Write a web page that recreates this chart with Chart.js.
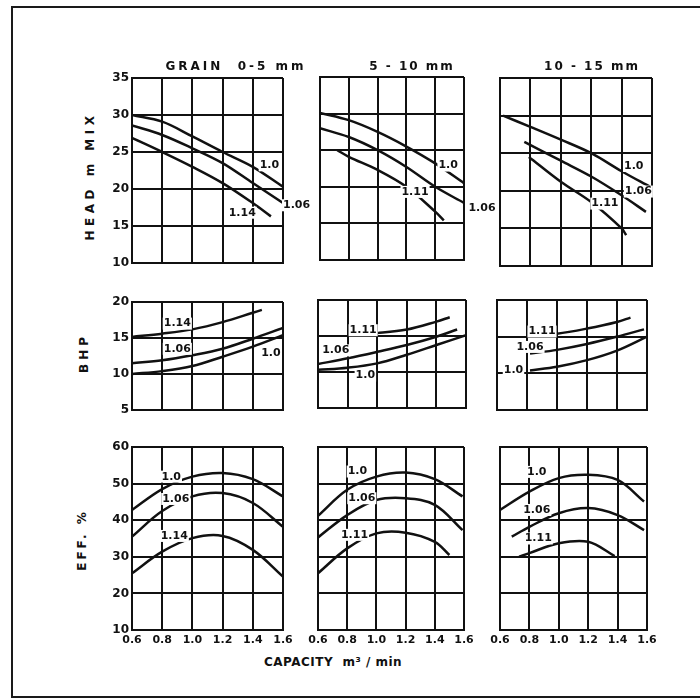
<!DOCTYPE html>
<html>
<head>
<meta charset="utf-8">
<script src="https://cdn.jsdelivr.net/npm/chart.js@4.4.1/dist/chart.umd.min.js"></script>
<style>
html, body { margin: 0; padding: 0; background: #fff; }
#fig { position: relative; width: 700px; height: 699px; overflow: hidden; background: #fff; font-family: 'DejaVu Sans', sans-serif; }
#frame { position: absolute; left: 11px; top: 6px; width: 720px; height: 688px; border: 2px solid #1a1a1a; }
canvas { position: absolute; }
.txt { position: absolute; font-weight: bold; color: #111; white-space: pre; line-height: 1; }
</style>
</head>
<body>
<div id="fig">
  <div id="frame"></div>
</div>
<script>
const capTicks = [0.6, 0.8, 1.0, 1.2, 1.4, 1.6];
const headTicks = [10, 15, 20, 25, 30, 35];
const bhpTicks = [5, 10, 15, 20];
const effTicks = [10, 20, 30, 40, 50, 60];

const grainSizes = ['GRAIN  0-5 mm', '5 - 10 mm', '10 - 15 mm'];
const rowTitles = ['HEAD m MIX', 'BHP', 'EFF. %'];
const xTitle = 'CAPACITY  m\u00b3 / min';
const ratiosFine = ['1.0', '1.06', '1.14'];
const ratiosCoarse = ['1.0', '1.06', '1.11'];

// head, grain 0-5 mm
const head05_r100 = [[0.6, 30.0], [0.8, 29.1], [1.0, 27.1], [1.2, 25.0], [1.4, 23.0], [1.6, 20.3]];
const head05_r106 = [[0.6, 28.6], [0.8, 27.3], [1.0, 25.5], [1.2, 23.5], [1.4, 20.8], [1.6, 18.1]];
const head05_r114 = [[0.6, 26.9], [0.8, 25.0], [1.0, 23.0], [1.2, 20.8], [1.4, 18.1], [1.52, 16.3]];
// head, 5-10 mm
const head510_r100 = [[0.6, 30.1], [0.8, 29.1], [1.0, 27.5], [1.2, 25.5], [1.4, 23.2], [1.6, 20.5]];
const head510_r106 = [[0.6, 28.0], [0.8, 26.8], [1.0, 25.0], [1.2, 22.7], [1.4, 20.0], [1.6, 17.8]];
const head510_r111 = [[0.72, 25.0], [0.8, 24.1], [1.0, 22.3], [1.2, 20.0], [1.4, 16.6], [1.46, 15.4]];
// head, 10-15 mm
const head1015_r100 = [[0.62, 30.0], [0.8, 28.5], [1.0, 26.8], [1.2, 25.0], [1.4, 22.6], [1.59, 20.5]];
const head1015_r106 = [[0.76, 26.5], [1.0, 24.0], [1.2, 21.9], [1.4, 19.4], [1.56, 17.2]];
const head1015_r111 = [[0.79, 24.5], [1.0, 21.2], [1.2, 18.5], [1.4, 15.0], [1.43, 14.1]];

// bhp
const bhp05_r100 = [[0.6, 10.0], [0.8, 10.4], [1.0, 11.1], [1.2, 12.4], [1.4, 13.8], [1.6, 15.4]];
const bhp05_r106 = [[0.6, 11.5], [0.8, 11.9], [1.0, 12.6], [1.2, 13.5], [1.4, 14.9], [1.6, 16.4]];
const bhp05_r114 = [[0.6, 15.15], [0.8, 15.6], [1.0, 16.2], [1.2, 17.2], [1.4, 18.5], [1.46, 18.9]];
const bhp510_r100 = [[0.6, 10.3], [0.8, 10.6], [1.0, 11.2], [1.2, 12.4], [1.4, 13.75], [1.6, 15.1]];
const bhp510_r106 = [[0.6, 11.1], [0.8, 11.9], [1.0, 12.8], [1.2, 13.75], [1.4, 14.9], [1.54, 15.9]];
const bhp510_r111 = [[0.8, 15.1], [1.0, 15.4], [1.2, 15.9], [1.4, 17.0], [1.49, 17.6]];
const bhp1015_r100 = [[0.82, 10.4], [1.0, 10.9], [1.2, 11.8], [1.4, 13.1], [1.6, 15.0]];
const bhp1015_r106 = [[0.82, 12.7], [1.0, 13.2], [1.2, 14.0], [1.4, 15.0], [1.58, 16.0]];
const bhp1015_r111 = [[0.84, 15.2], [1.0, 15.4], [1.2, 16.1], [1.4, 17.0], [1.49, 17.6]];

// efficiency
const eff05_r100 = [[0.6, 42.8], [0.8, 48.5], [1.0, 51.9], [1.2, 52.9], [1.4, 51.2], [1.6, 46.5]];
const eff05_r106 = [[0.6, 35.5], [0.8, 42.5], [1.0, 46.5], [1.2, 47.4], [1.4, 44.7], [1.6, 38.2]];
const eff05_r114 = [[0.6, 25.5], [0.8, 31.4], [1.0, 35.1], [1.2, 35.7], [1.4, 31.9], [1.6, 24.6]];
const eff510_r100 = [[0.6, 41.2], [0.8, 48.3], [1.0, 51.9], [1.2, 53.0], [1.4, 51.2], [1.59, 46.5]];
const eff510_r106 = [[0.6, 35.3], [0.8, 41.4], [1.0, 45.5], [1.2, 46.0], [1.4, 44.2], [1.59, 37.3]];
const eff510_r111 = [[0.6, 25.5], [0.8, 32.3], [1.0, 36.4], [1.2, 36.6], [1.4, 34.1], [1.5, 30.5]];
const eff1015_r100 = [[0.6, 42.8], [0.8, 47.8], [1.0, 51.5], [1.2, 52.4], [1.4, 51.0], [1.58, 45.1]];
const eff1015_r106 = [[0.68, 35.5], [0.8, 38.2], [1.0, 41.9], [1.2, 43.3], [1.4, 41.4], [1.58, 37.3]];
const eff1015_r111 = [[0.73, 30.0], [0.8, 31.0], [1.0, 33.7], [1.2, 34.1], [1.38, 30.2]];

// where the ratio tags sit, in axis units (same order as the ratio lists)
const head05_tags = [[1.51, 23.2], [1.69, 17.8], [1.33, 16.8]];
const head510_tags = [[1.49, 22.9], [1.725, 17.1], [1.26, 19.3]];
const head1015_tags = [[1.48, 23.3], [1.51, 19.9], [1.29, 18.3]];
const bhp05_tags = [[1.52, 12.85], [0.9, 13.5], [0.9, 17.0]];
const bhp510_tags = [[0.92, 9.5], [0.72, 13.0], [0.905, 15.8]];
const bhp1015_tags = [[0.71, 10.5], [0.82, 13.6], [0.9, 15.7]];
const eff05_tags = [[0.86, 51.9], [0.89, 45.8], [0.88, 35.7]];
const eff510_tags = [[0.87, 53.3], [0.9, 46.0], [0.85, 36.0]];
const eff1015_tags = [[0.85, 53.2], [0.85, 42.8], [0.86, 35.0]];

const ink = '#111';
const fig = document.getElementById('fig');

const curveLabels = {
    id: 'curveLabels',
    afterDatasetsDraw(chart, args, opts) {
        const { ctx } = chart;
        const x = chart.scales.x, y = chart.scales.y;
        ctx.save();
        ctx.font = 'bold 11px "DejaVu Sans", sans-serif';
        ctx.textAlign = 'center';
        ctx.textBaseline = 'middle';
        (opts.items || []).forEach(item => {
            const px = x.getPixelForValue(item.at[0]);
            const py = y.getPixelForValue(item.at[1]);
            const w = ctx.measureText(item.text).width;
            ctx.fillStyle = '#fff';
            ctx.fillRect(px - w / 2 - 1, py - 6, w + 2, 12);
            ctx.fillStyle = ink;
            ctx.fillText(item.text, px, py);
        });
        ctx.restore();
    }
};

function addPanel(box, cfg) {
    const [left, top, w, h] = box;
    const yW = cfg.yLabels ? 30 : (cfg.xLabels ? 14 : 4);
    const xH = cfg.xLabels ? 22 : 6;
    const padT = 8;
    const padR = cfg.padR || (cfg.xLabels ? 14 : 6);

    const canvas = document.createElement('canvas');
    canvas.width = yW + w + padR;
    canvas.height = padT + h + xH;
    canvas.style.left = (left - yW) + 'px';
    canvas.style.top = (top - padT) + 'px';
    fig.appendChild(canvas);

    new Chart(canvas, {
        type: 'line',
        data: {
            datasets: cfg.curves.map((pts, i) => ({
                label: cfg.names[i],
                data: pts.map(p => ({ x: p[0], y: p[1] })),
                borderColor: ink,
                borderWidth: 2.5,
                pointRadius: 0,
                tension: 0.35,
                fill: false
            }))
        },
        options: {
            responsive: false,
            animation: false,
            devicePixelRatio: 1,
            layout: { padding: { left: 0, top: padT, right: padR, bottom: 0 } },
            plugins: {
                legend: { display: false },
                tooltip: { enabled: false },
                curveLabels: {
                    items: cfg.names.map((t, i) => ({ text: t, at: cfg.tags[i] }))
                }
            },
            scales: {
                x: {
                    type: 'linear',
                    min: capTicks[0],
                    max: capTicks[capTicks.length - 1],
                    afterBuildTicks: s => { s.ticks = capTicks.map(v => ({ value: v })); },
                    afterFit: s => { s.height = xH; s.paddingLeft = 0; s.paddingRight = 0; },
                    grid: { color: ink, lineWidth: 2, drawTicks: false },
                    border: { color: ink, width: 2 },
                    ticks: {
                        display: !!cfg.xLabels,
                        padding: 4,
                        autoSkip: false,
                        maxRotation: 0,
                        color: ink,
                        font: { family: 'DejaVu Sans', size: 11, weight: 'bold' },
                        callback: v => v.toFixed(1)
                    }
                },
                y: {
                    type: 'linear',
                    min: cfg.yTicks[0],
                    max: cfg.yTicks[cfg.yTicks.length - 1],
                    afterBuildTicks: s => { s.ticks = cfg.yTicks.map(v => ({ value: v })); },
                    afterFit: s => { s.width = yW; s.paddingTop = 0; s.paddingBottom = 0; },
                    grid: { color: ink, lineWidth: 2, drawTicks: false },
                    border: { color: ink, width: 2 },
                    ticks: {
                        display: !!cfg.yLabels,
                        padding: 3,
                        color: ink,
                        font: { family: 'DejaVu Sans', size: 12, weight: 'bold' }
                    }
                }
            }
        },
        plugins: [curveLabels]
    });
}

function addText(text, cx, cy, size, spacing, rotate) {
    const d = document.createElement('div');
    d.className = 'txt';
    d.textContent = text;
    d.style.fontSize = size + 'px';
    d.style.letterSpacing = spacing + 'px';
    d.style.left = cx + 'px';
    d.style.top = cy + 'px';
    d.style.transform = 'translate(-50%, -50%)' + (rotate ? ' rotate(-90deg)' : '');
    fig.appendChild(d);
}

// row 1: head
addPanel([132, 78, 151, 185], { yTicks: headTicks, yLabels: true, padR: 30,
    curves: [head05_r100, head05_r106, head05_r114], names: ratiosFine, tags: head05_tags });
addPanel([320, 77, 144, 183], { yTicks: headTicks, padR: 36,
    curves: [head510_r100, head510_r106, head510_r111], names: ratiosCoarse, tags: head510_tags });
addPanel([500, 78, 152, 188], { yTicks: headTicks,
    curves: [head1015_r100, head1015_r106, head1015_r111], names: ratiosCoarse, tags: head1015_tags });

// row 2: brake horsepower
addPanel([132, 302, 151, 108], { yTicks: bhpTicks, yLabels: true,
    curves: [bhp05_r100, bhp05_r106, bhp05_r114], names: ratiosFine, tags: bhp05_tags });
addPanel([318, 300, 148, 108], { yTicks: bhpTicks,
    curves: [bhp510_r100, bhp510_r106, bhp510_r111], names: ratiosCoarse, tags: bhp510_tags });
addPanel([497, 300, 150, 110], { yTicks: bhpTicks,
    curves: [bhp1015_r100, bhp1015_r106, bhp1015_r111], names: ratiosCoarse, tags: bhp1015_tags });

// row 3: efficiency
addPanel([132, 447, 151, 183], { yTicks: effTicks, yLabels: true, xLabels: true,
    curves: [eff05_r100, eff05_r106, eff05_r114], names: ratiosFine, tags: eff05_tags });
addPanel([318, 447, 146, 183], { yTicks: effTicks, xLabels: true,
    curves: [eff510_r100, eff510_r106, eff510_r111], names: ratiosCoarse, tags: eff510_tags });
addPanel([500, 447, 147, 183], { yTicks: effTicks, xLabels: true,
    curves: [eff1015_r100, eff1015_r106, eff1015_r111], names: ratiosCoarse, tags: eff1015_tags });

// column and axis titles
addText(grainSizes[0], 236, 66, 12, 3, false);
addText(grainSizes[1], 412, 66, 12, 2, false);
addText(grainSizes[2], 592, 66, 12, 2, false);
addText(rowTitles[0], 90, 176, 12, 4.5, true);
addText(rowTitles[1], 84, 353, 12, 4, true);
addText(rowTitles[2], 82, 540, 12, 3, true);
addText(xTitle, 333, 662, 12, 0.5, false);
</script>
</body>
</html>
